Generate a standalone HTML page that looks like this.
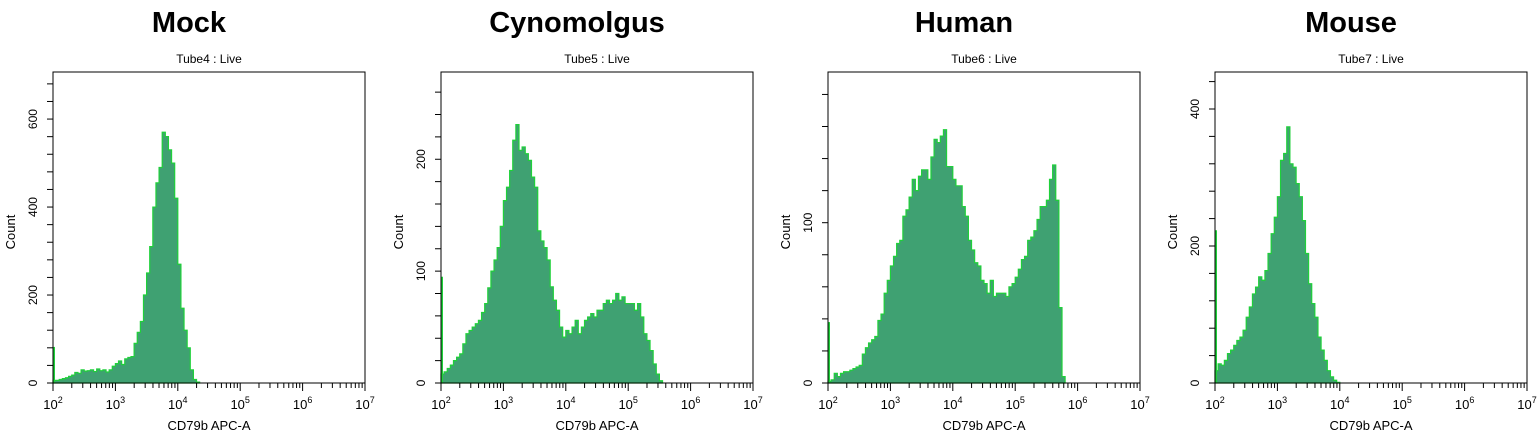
<!DOCTYPE html>
<html><head><meta charset="utf-8">
<style>
html,body{margin:0;padding:0;background:#fff;}
body{width:1538px;height:437px;overflow:hidden;font-family:"Liberation Sans",sans-serif;}
svg text{font-family:"Liberation Sans",sans-serif;}
</style></head>
<body>
<svg id="chart" width="1538" height="437" viewBox="0 0 1538 437" xmlns="http://www.w3.org/2000/svg"></svg>
<script>
// ---- data ----
const panelTitles = ["Mock","Cynomolgus","Human","Mouse"];
const tubeLabels = ["Tube4 : Live","Tube5 : Live","Tube6 : Live","Tube7 : Live"];
const yMax = [707, 278, 194, 454];
const yTickLabels = [[0,200,400,600],[0,100,200],[0,100],[0,200,400]];
const yMinorStep = [40, 20, 20, 40];
const xDecades = [2,3,4,5,6,7];
const binStartLog = 2.0;
const binWidthLog = 0.05;
const edgeSpike = [82, 95, 38, 223];
const mockCounts = [6,6,8,10,12,15,18,24,22,30,27,28,30,26,32,28,30,25,30,38,44,50,42,55,58,60,90,115,140,200,250,310,400,455,490,570,560,530,500,420,270,170,120,80,30,8,2];
const cynoCounts = [8,10,13,16,20,23,26,35,44,47,50,53,56,63,71,85,100,110,121,140,163,175,190,217,231,208,211,205,199,184,175,136,127,121,110,86,74,65,50,41,47,44,50,56,44,50,56,59,62,59,65,65,71,74,71,74,80,74,77,71,71,71,65,71,59,44,38,29,17,8,2];
const humanCounts = [1,2,6,4,6,7,7,8,9,10,11,18,22,25,27,29,39,43,56,64,73,79,87,89,104,108,116,127,120,129,133,133,127,141,152,150,154,158,135,135,127,123,123,110,104,89,83,75,73,64,62,56,64,54,56,56,56,54,60,62,66,71,77,79,89,91,95,102,110,110,114,127,136,114,47,4];
const mouseCounts = [18,28,26,33,43,48,55,62,67,77,96,111,130,140,155,150,164,189,218,242,272,325,335,374,320,315,291,272,237,189,145,116,96,67,48,33,18,9,4,1];
const seriesCounts = [mockCounts, cynoCounts, humanCounts, mouseCounts];

// ---- layout ----
const plotLeft = [53, 441, 828, 1215];
const plotW = 312, plotTop = 72, plotBottom = 383;
const NS = "http://www.w3.org/2000/svg";
const svg = document.getElementById("chart");
function mk(tag, attrs, parent){
  const e = document.createElementNS(NS, tag);
  for (const k in attrs) e.setAttribute(k, attrs[k]);
  (parent||svg).appendChild(e);
  return e;
}

for (let p = 0; p < 4; p++) {
  const L = plotLeft[p];
  const xScale = v => L + (v - 2) / 5 * plotW;
  const yScale = c => plotBottom - c / yMax[p] * (plotBottom - plotTop);
  const g = mk("g", {});
  
  

  const t = mk("text", {x: L + plotW/2 - 20, y: 32, "text-anchor": "middle", "font-size": 29, "font-weight": "bold", fill: "#000"}, g);
  t.textContent = panelTitles[p];
  
  

  const st = mk("text", {x: L + plotW/2, y: 63, "text-anchor": "middle", "font-size": 12, fill: "#000"}, g);
  st.textContent = tubeLabels[p];
  
  

  // histogram
  const counts = seriesCounts[p];
  let d = "M" + xScale(binStartLog).toFixed(2) + "," + plotBottom;
  for (let i = 0; i < counts.length; i++) {
    const x0 = xScale(binStartLog + i*binWidthLog), x1 = xScale(binStartLog + (i+1)*binWidthLog);
    const y = yScale(counts[i]);
    d += " L" + x0.toFixed(2) + "," + y.toFixed(2) + " L" + x1.toFixed(2) + "," + y.toFixed(2);
  }
  d += " L" + xScale(binStartLog + counts.length*binWidthLog).toFixed(2) + "," + plotBottom + " Z";
  const h = mk("path", {d: d, fill: "#3fa172", stroke: "#1fd03a", "stroke-width": 1.2, "stroke-linejoin": "miter"}, g);
  
  

  const sp = mk("line", {x1: xScale(2)+1, x2: xScale(2)+1, y1: plotBottom, y2: yScale(edgeSpike[p]), stroke: "#1fd03a", "stroke-width": 2}, g);
  
  

  // frame
  const fr = mk("rect", {x: L, y: plotTop, width: plotW, height: plotBottom - plotTop, fill: "none", stroke: "#000", "stroke-width": 1}, g);
  
  

  // x ticks
  for (let k = 0; k < xDecades.length; k++) {
    const dec = xDecades[k];
    const xx = xScale(dec);
    mk("line", {x1: xx, x2: xx, y1: plotBottom, y2: plotBottom + 8, stroke: "#000"}, g);
    if (k < xDecades.length - 1) {
      for (let m = 2; m <= 9; m++) {
        const xm = xScale(dec + Math.log10(m));
        mk("line", {x1: xm, x2: xm, y1: plotBottom, y2: plotBottom + 5, stroke: "#000"}, g);
      }
    }
    const tl = mk("text", {x: xx, y: 409, "text-anchor": "middle", "font-size": 13, fill: "#000"}, g);
    
    
    tl.appendChild(document.createTextNode("10"));
    const sup = mk("tspan", {dy: -6, "font-size": 9}, tl);
    sup.textContent = String(dec);
  }
  const xl = mk("text", {x: L + plotW/2, y: 430, "text-anchor": "middle", "font-size": 13, fill: "#000"}, g);
  xl.textContent = "CD79b APC-A";
  
  

  // y ticks
  for (let c = 0; c <= yMax[p]; c += yMinorStep[p]) {
    const yy = yScale(c);
    mk("line", {x1: L - 6, x2: L, y1: yy, y2: yy, stroke: "#000"}, g);
  }
  for (const v of yTickLabels[p]) {
    const yy = yScale(v);
    const yl = mk("text", {x: L - 16, y: yy, "text-anchor": "middle", "font-size": 12, fill: "#000", transform: "rotate(-90 " + (L-16) + " " + yy + ")"}, g);
    yl.textContent = String(v);
    
    
  }
  const cy = 232;
  const yt = mk("text", {x: L - 38, y: cy, "text-anchor": "middle", "font-size": 13, fill: "#000", transform: "rotate(-90 " + (L-38) + " " + cy + ")"}, g);
  yt.textContent = "Count";
  
  
}
</script>
</body></html>
